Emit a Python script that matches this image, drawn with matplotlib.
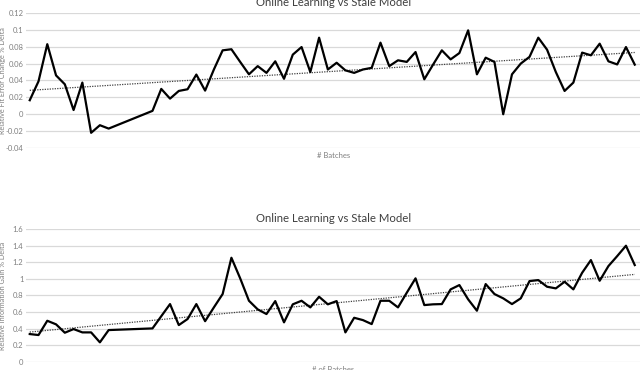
import matplotlib.pyplot as plt
import numpy as np

# batch numbers 11-14 are missing in both series (line just connects across)
batches = list(range(1, 11)) + list(range(15, 71))

fit_error_delta = [0.0166, 0.039, 0.083, 0.046, 0.0355, 0.005, 0.0375, -0.022, -0.013, -0.017,
                   0.004, 0.030, 0.0185, 0.0276, 0.0296, 0.047, 0.028, 0.053, 0.0757, 0.077,
                   0.062, 0.0473, 0.057, 0.049, 0.0627, 0.042, 0.0706, 0.0796, 0.050, 0.0907,
                   0.053, 0.061, 0.052, 0.049, 0.053, 0.055, 0.0848, 0.057, 0.0639, 0.062,
                   0.0737, 0.0414, 0.0588, 0.0757, 0.065, 0.0725, 0.0994, 0.0473, 0.067, 0.062,
                   0.0, 0.0473, 0.06, 0.068, 0.0907, 0.0765, 0.050, 0.0276, 0.0375, 0.073,
                   0.0698, 0.0836, 0.0627, 0.059, 0.0796, 0.0588]

info_gain_delta = [0.335, 0.323, 0.495, 0.452, 0.351, 0.395, 0.355, 0.355, 0.235, 0.383,
                   0.403, 0.55, 0.696, 0.443, 0.516, 0.696, 0.49, 0.656, 0.817, 1.254,
                   1.006, 0.736, 0.632, 0.576, 0.732, 0.476, 0.693, 0.736, 0.656, 0.784,
                   0.693, 0.732, 0.355, 0.531, 0.503, 0.455, 0.736, 0.736, 0.656, 0.833,
                   1.006, 0.684, 0.693, 0.696, 0.873, 0.925, 0.753, 0.616, 0.937, 0.817,
                   0.765, 0.696, 0.765, 0.973, 0.985, 0.905, 0.885, 0.965, 0.873, 1.073,
                   1.226, 0.977, 1.154, 1.274, 1.399, 1.166]

top_ticks = [-0.04, -0.02, 0, 0.02, 0.04, 0.06, 0.08, 0.1, 0.12]
top_labels = ["-0.04", "-0.02", "0", "0.02", "0.04", "0.06", "0.08", "0.1", "0.12"]
bot_ticks = [0, 0.2, 0.4, 0.6, 0.8, 1.0, 1.2, 1.4, 1.6]
bot_labels = ["0", "0.2", "0.4", "0.6", "0.8", "1", "1.2", "1.4", "1.6"]

plt.rcParams['font.family'] = ['Lato', 'DejaVu Sans']

fig = plt.figure(figsize=(6.4, 3.7), dpi=100)
ax1 = fig.add_axes([0.041, 0.60, 0.959, 0.365])
ax2 = fig.add_axes([0.041, 0.022, 0.959, 0.359])

def draw(ax, y, ticks, labels, title, xlabel, ylabel):
    x = np.array(batches)
    y = np.array(y)
    ax.plot(x, y, color='black', lw=1.6, zorder=3)
    k, b = np.polyfit(x, y, 1)
    xs = np.array([x[0], x[-1]])
    ax.plot(xs, k * xs + b, color='#404040', lw=0.9, ls=(0, (1, 1)), zorder=2)
    ax.set_xlim(0.6, 70.6)
    ax.set_ylim(ticks[0], ticks[-1])
    ax.set_yticks(ticks)
    ax.set_yticklabels(labels)
    ax.set_xticks([])
    ax.grid(axis='y', color='#d9d9d9', lw=0.9)
    ax.set_axisbelow(True)
    for s in ax.spines.values():
        s.set_visible(False)
    ax.tick_params(axis='y', length=0, labelsize=5.5, labelcolor='#7f7f7f', pad=2)
    ax.set_title(title, fontsize=8.2, color='#404040', pad=5)
    ax.set_xlabel(xlabel, fontsize=5.5, color='#7f7f7f', labelpad=3)
    ax.set_ylabel(ylabel, fontsize=5.2, color='#7f7f7f')
    ax.yaxis.set_label_coords(-0.033, 0.5)

draw(ax1, fit_error_delta, top_ticks, top_labels, "Online Learning vs Stale Model",
     "# Batches", "Relative Fit Error Change % Delta")
draw(ax2, info_gain_delta, bot_ticks, bot_labels, "Online Learning vs Stale Model",
     "# of Batches", "Relative Information Gain % Delta")

fig.savefig("out.png", dpi=100)
